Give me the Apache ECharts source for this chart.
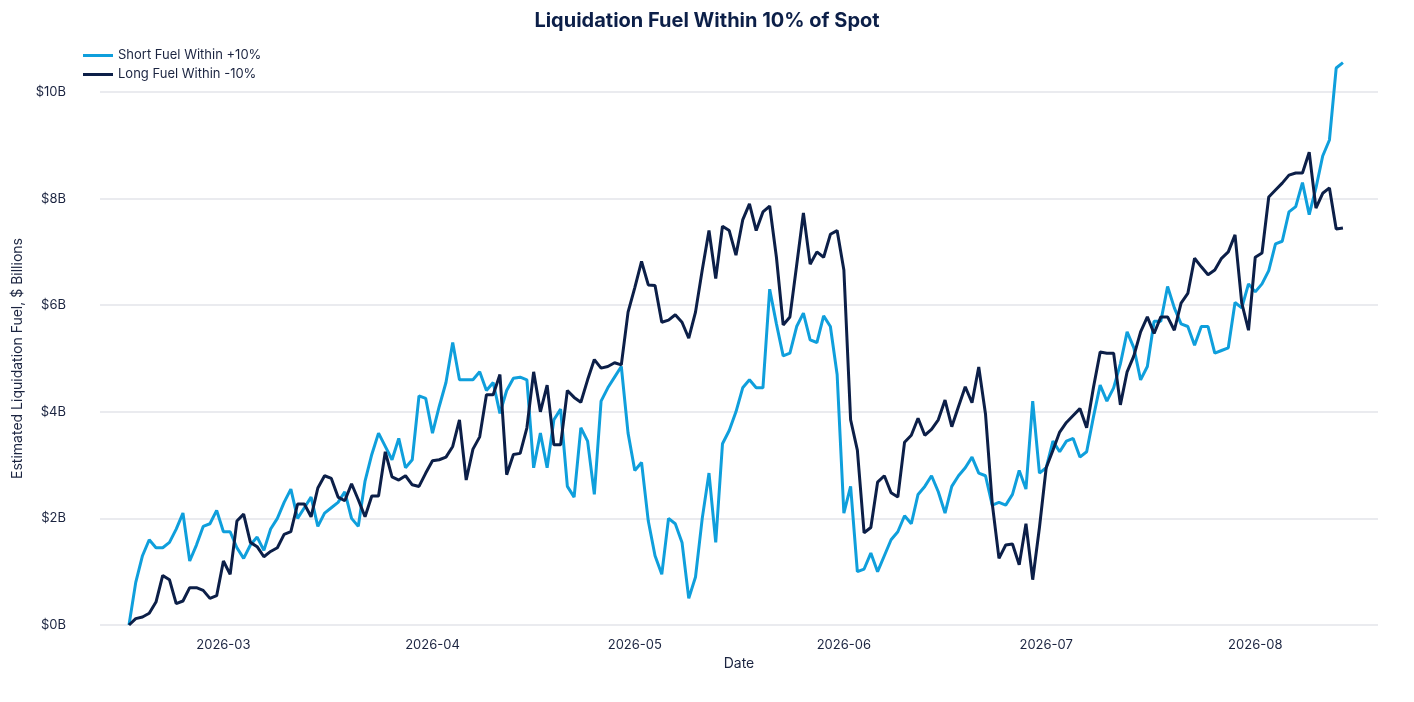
<!DOCTYPE html>
<html><head><meta charset="utf-8">
<script src="https://cdn.jsdelivr.net/npm/echarts@6/dist/echarts.min.js"></script>
<style>html,body{margin:0;padding:0;background:#fff}#c{width:1414px;height:702px}</style>
</head><body><div id="c"></div>
<script>
const startDate = '2026-02-15';
const shortFuel = [
0,0.8,1.3,1.6,1.45,1.45,1.55,1.8,2.1,1.2,
1.5,1.85,1.9,2.15,1.75,1.75,1.45,1.25,1.5,1.65,
1.4,1.8,2.0,2.3,2.55,2.0,2.2,2.4,1.85,2.1,
2.2,2.3,2.5,2.0,1.85,2.7,3.2,3.6,3.35,3.1,
3.5,2.95,3.1,4.3,4.25,3.6,4.1,4.55,5.3,4.6,
4.6,4.6,4.75,4.4,4.55,3.97,4.4,4.63,4.65,4.6,
2.95,3.6,2.95,3.85,4.05,2.6,2.4,3.7,3.45,2.45,
4.2,4.45,4.65,4.85,3.6,2.9,3.05,1.95,1.3,0.95,
2.0,1.9,1.55,0.5,0.9,2.0,2.85,1.55,3.4,3.65,
4.0,4.45,4.6,4.45,4.45,6.3,5.65,5.05,5.1,5.6,
5.85,5.35,5.3,5.8,5.6,4.7,2.1,2.6,1.0,1.05,
1.35,1.0,1.3,1.6,1.75,2.05,1.9,2.45,2.6,2.8,
2.5,2.1,2.6,2.8,2.95,3.15,2.85,2.8,2.25,2.3,
2.25,2.45,2.9,2.55,4.2,2.85,2.95,3.45,3.25,3.45,
3.5,3.15,3.25,3.9,4.5,4.2,4.45,4.9,5.5,5.2,
4.6,4.85,5.7,5.7,6.35,5.95,5.65,5.6,5.25,5.6,
5.6,5.1,5.15,5.2,6.05,5.95,6.4,6.25,6.4,6.65,
7.15,7.2,7.75,7.85,8.3,7.7,8.2,8.8,9.1,10.45,
10.55];
const longFuel = [
0,0.12,0.15,0.22,0.43,0.93,0.85,0.4,0.45,0.7,
0.7,0.65,0.5,0.55,1.2,0.95,1.95,2.08,1.55,1.47,
1.28,1.38,1.45,1.7,1.75,2.27,2.27,2.03,2.57,2.8,
2.75,2.4,2.33,2.65,2.35,2.03,2.42,2.42,3.25,2.78,
2.72,2.8,2.63,2.6,2.85,3.08,3.1,3.15,3.35,3.85,
2.72,3.3,3.53,4.32,4.32,4.7,2.82,3.2,3.22,3.7,
4.75,4.0,4.5,3.38,3.38,4.4,4.27,4.18,4.6,4.98,
4.82,4.85,4.92,4.88,5.87,6.33,6.82,6.38,6.37,5.68,
5.72,5.82,5.68,5.38,5.87,6.66,7.4,6.5,7.48,7.4,
6.94,7.6,7.9,7.4,7.75,7.86,6.9,5.63,5.78,6.75,
7.73,6.77,7.0,6.9,7.33,7.4,6.66,3.85,3.28,1.73,
1.83,2.68,2.8,2.48,2.4,3.43,3.56,3.88,3.56,3.67,
3.85,4.22,3.72,4.1,4.47,4.17,4.84,3.96,2.28,1.25,
1.5,1.52,1.13,1.9,0.85,1.83,2.95,3.28,3.62,3.8,
3.93,4.06,3.7,4.45,5.12,5.1,5.1,4.13,4.75,5.05,
5.5,5.78,5.47,5.78,5.78,5.53,6.04,6.22,6.88,6.72,
6.57,6.66,6.88,7.0,7.32,6.04,5.53,6.9,6.98,8.03,
8.16,8.29,8.44,8.48,8.48,8.87,7.82,8.1,8.2,7.43,
7.45];
const monthTicks = ['2026-03-01','2026-04-01','2026-05-01','2026-06-01','2026-07-01','2026-08-01'];

const DAY = 86400000;
const t0 = new Date(startDate + 'T00:00:00').getTime();
const toPairs = arr => arr.map((v, i) => [t0 + i * DAY, v]);
const tickTs = monthTicks.map(d => new Date(d + 'T00:00:00').getTime());
const navy = '#0c1f48', blue = '#0f9fdc', txt = '#1b2440';
const fmtMonth = v => { const d = new Date(v); return d.getFullYear() + '-' + String(d.getMonth() + 1).padStart(2, '0'); };

const chart = echarts.init(document.getElementById('c'));
chart.setOption({
  animation: false,
  title: { text: 'Liquidation Fuel Within 10% of Spot', left: 'center', top: 6,
    textStyle: { fontFamily: 'Inter', fontSize: 20, fontWeight: 'bold', color: navy } },
  legend: { orient: 'vertical', left: 78, top: 44, itemGap: 6, itemWidth: 30, itemHeight: 3,
    icon: 'rect', textStyle: { fontFamily: 'Inter', fontSize: 13, color: txt } },
  grid: { left: 100, right: 36, top: 92, bottom: 77 },
  xAxis: { type: 'value', min: t0 - 4.3 * DAY, max: t0 + 185.2 * DAY, scale: true,
    name: 'Date', nameLocation: 'middle', nameGap: 32,
    nameTextStyle: { fontFamily: 'Inter', fontSize: 14, color: txt },
    axisLine: { show: false }, axisTick: { show: false }, splitLine: { show: false },
    axisLabel: { customValues: tickTs, fontFamily: 'Inter', fontSize: 13, color: txt, margin: 14,
      formatter: v => fmtMonth(v) } },
  yAxis: { type: 'value', min: 0, max: 10, interval: 2,
    name: 'Estimated Liquidation Fuel, $ Billions', nameLocation: 'middle', nameGap: 70,
    nameTextStyle: { fontFamily: 'Inter', fontSize: 14, color: txt },
    axisLine: { show: false }, axisTick: { show: false },
    splitLine: { lineStyle: { color: '#e3e5ea', width: 1.5 } },
    axisLabel: { fontFamily: 'Inter', fontSize: 13, color: txt, margin: 34, formatter: v => '$' + v + 'B' } },
  series: [
    { name: 'Short Fuel Within +10%', type: 'line', data: toPairs(shortFuel), showSymbol: false, clip: false,
      lineStyle: { color: blue, width: 3 }, itemStyle: { color: blue } },
    { name: 'Long Fuel Within -10%', type: 'line', data: toPairs(longFuel), showSymbol: false, clip: false,
      lineStyle: { color: navy, width: 3 }, itemStyle: { color: navy } }
  ]
});
</script></body></html>
